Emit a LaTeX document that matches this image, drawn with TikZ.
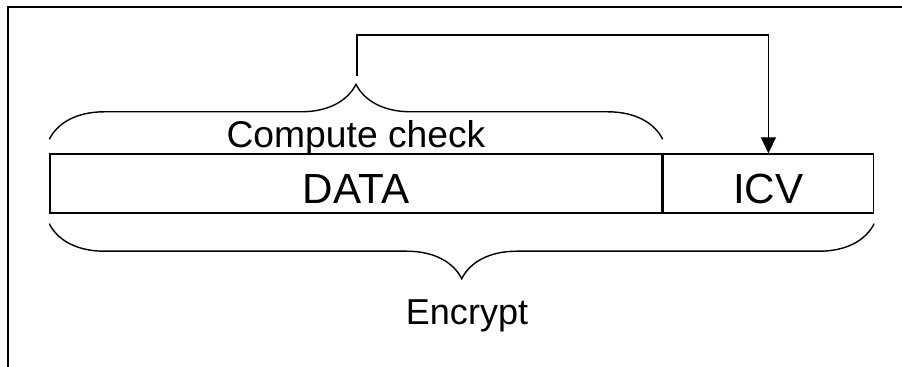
\documentclass[tikz,border=0pt]{standalone}
\usepackage{fontspec}
\setmainfont{Liberation Sans}
\usetikzlibrary{positioning,decorations.pathreplacing,arrows.meta}
\begin{document}
\begin{tikzpicture}[
				field/.style={rectangle, draw, line width=0.8pt, minimum height=1.18cm, inner sep=0, text height=0.79cm, text depth=0, font=\fontsize{24}{28}\selectfont},
				label/.style={anchor=base, inner sep=0, font=\fontsize{20.5}{24}\selectfont},
				brace/.style={decorate, decoration={brace, amplitude=1.1cm}, line width=0.8pt},
				flow/.style={-{Triangle[length=0.32cm, width=0.3cm]}, line width=0.8pt},
			]
			\useasboundingbox (0,0) rectangle (18.04,-7.34);
			\draw[line width=1.2pt] (0.16,-7.34) -- (0.16,-0.14) -- (18.04,-0.14);
			\node[field, minimum width=12.24cm] (data) at (7.12,-3.67) {DATA};
			\node[field, minimum width=4.2cm, right=0pt of data] (icv) {ICV};
			\draw[brace] ([yshift=0.28cm]data.north west) -- ([yshift=0.28cm]data.north east);
			\node[label, font=\fontsize{21.2}{25}\selectfont] (chk) at (7.12,-2.96) {Compute check};
			\draw[brace, decoration={mirror}] ([yshift=-0.2cm]data.south west) -- ([yshift=-0.2cm]icv.south east);
			\node[label] (enc) at (9.34,-6.5) {Encrypt};
			\coordinate (src) at (7.14,-1.52);
			\coordinate (bend) at (7.14,-0.70);
			\draw[flow] (src) -- (bend) -| (icv.north);
			\end{tikzpicture}
\end{document}
